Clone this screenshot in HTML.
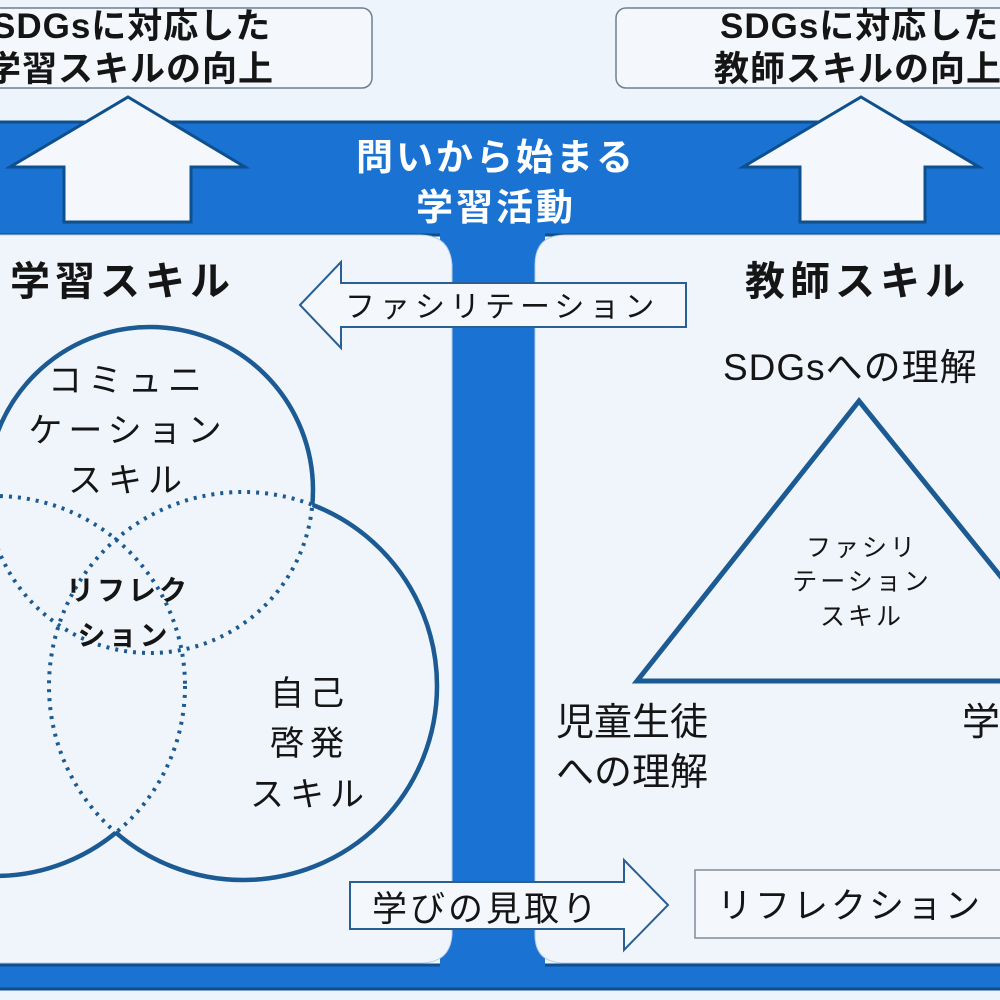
<!DOCTYPE html>
<html><head><meta charset="utf-8"><style>
html,body{margin:0;padding:0;background:#eef4fb;}
svg{display:block;font-family:"Liberation Sans","Noto Sans CJK JP",sans-serif;}
</style></head><body>
<svg width="1000" height="1000" viewBox="0 0 1000 1000" xmlns="http://www.w3.org/2000/svg">
<defs>
<mask id="mA"><rect x="-50" y="-50" width="1100" height="1100" fill="#fff"/><circle cx="243" cy="686" r="194" fill="#000"/><circle cx="-5" cy="686" r="190" fill="#000"/></mask>
<mask id="mB"><rect x="-50" y="-50" width="1100" height="1100" fill="#fff"/><circle cx="150" cy="490" r="163" fill="#000"/><circle cx="-5" cy="686" r="190" fill="#000"/></mask>
<mask id="mC"><rect x="-50" y="-50" width="1100" height="1100" fill="#fff"/><circle cx="150" cy="490" r="163" fill="#000"/><circle cx="243" cy="686" r="194" fill="#000"/></mask>
</defs>
<rect width="1000" height="1000" fill="#eef4fb"/>
<rect x="-5" y="122" width="1010" height="113" fill="#1a72d2" stroke="#0e4f8e" stroke-width="3"/>
<rect x="-5" y="965" width="1010" height="24" fill="#1a72d2" stroke="#0e4f8e" stroke-width="3"/>
<rect x="440" y="225" width="105" height="745" fill="#1a72d2"/>
<path d="M-10 235 H420 Q450 235 452 265 V935 Q450 963 420 963 H-10 Z" fill="#f0f5fc" stroke="#b8cde6" stroke-width="1"/>
<path d="M1010 235 H565 Q535 235 535 265 V935 Q535 963 565 963 H1010 Z" fill="#f0f5fc" stroke="#b8cde6" stroke-width="1"/>
<rect x="-20" y="8" width="392" height="80" rx="10" fill="#f4f8fd" stroke="#6f7f90" stroke-width="1.5"/>
<rect x="616" y="8" width="400" height="80" rx="10" fill="#f4f8fd" stroke="#6f7f90" stroke-width="1.5"/>
<g font-size="35" font-weight="bold" fill="#151515" letter-spacing="1">
<text x="-8" y="38">SDGsに対応した</text>
<text x="-14" y="81">学習スキルの向上</text>
<text x="720" y="38">SDGsに対応した</text>
<text x="714" y="81">教師スキルの向上</text>
</g>
<polygon points="128,97 245,167 191,167 191,222 64,222 64,167 10,167" fill="#f4f8fd" stroke="#0e4f8e" stroke-width="3"/>
<polygon points="861,97 979,167 925,167 925,222 800,222 800,167 743,167" fill="#f4f8fd" stroke="#0e4f8e" stroke-width="3"/>
<g font-size="37" font-weight="bold" fill="#fff" text-anchor="middle" letter-spacing="3">
<text x="496" y="170">問いから始まる</text>
<text x="496" y="220">学習活動</text>
</g>
<g font-size="40" font-weight="bold" fill="#151515" letter-spacing="5">
<text x="10" y="295">学習スキル</text>
<text x="745" y="295">教師スキル</text>
</g>
<polygon points="300,305 341,262 341,283 686,283 686,327 341,327 341,348" fill="#f4f8fd" stroke="#2a5f93" stroke-width="2"/>
<text x="345" y="317" font-size="30" fill="#151515" letter-spacing="5">ファシリテーション</text>
<g fill="none" stroke="#1b5a92" stroke-width="4" stroke-dasharray="3 6">
<circle cx="150" cy="490" r="163"/>
<circle cx="243" cy="686" r="194"/>
<circle cx="-5" cy="686" r="190"/>
</g>
<g fill="none" stroke="#1b5a92" stroke-width="4.5">
<circle cx="150" cy="490" r="163" mask="url(#mA)"/>
<circle cx="243" cy="686" r="194" mask="url(#mB)"/>
<circle cx="-5" cy="686" r="190" mask="url(#mC)"/>
</g>
<g font-size="34" fill="#151515" text-anchor="middle" letter-spacing="6">
<text x="128" y="392">コミュニ</text>
<text x="128" y="442">ケーション</text>
<text x="128" y="492">スキル</text>
<text x="310" y="705">自己</text>
<text x="310" y="755">啓発</text>
<text x="310" y="806">スキル</text>
</g>
<g font-size="28" font-weight="bold" fill="#151515" text-anchor="middle" letter-spacing="3">
<text x="128" y="600">リフレク</text>
<text x="124" y="645">ション</text>
</g>
<polygon points="859,401 637,681 1085,681" fill="none" stroke="#1b5a92" stroke-width="5"/>
<text x="723" y="380" font-size="37" fill="#151515" letter-spacing="1">SDGsへの理解</text>
<g font-size="25" fill="#151515" text-anchor="middle" letter-spacing="3">
<text x="862" y="556">ファシリ</text>
<text x="862" y="590">テーション</text>
<text x="862" y="625">スキル</text>
</g>
<g font-size="38" fill="#151515">
<text x="556" y="735">児童生徒</text>
<text x="556" y="785">への理解</text>
<text x="962" y="735">学</text>
</g>
<polygon points="668,905 624,860 624,882 350,882 350,929 624,929 624,950" fill="#f4f8fd" stroke="#2a5f93" stroke-width="2"/>
<text x="372" y="921" font-size="35" fill="#151515" letter-spacing="3">学びの見取り</text>
<rect x="695" y="870" width="320" height="68" fill="#f4f8fd" stroke="#7f8c99" stroke-width="1.5"/>
<text x="717" y="918" font-size="35" fill="#151515" letter-spacing="3">リフレクション</text>
</svg>
</body></html>
